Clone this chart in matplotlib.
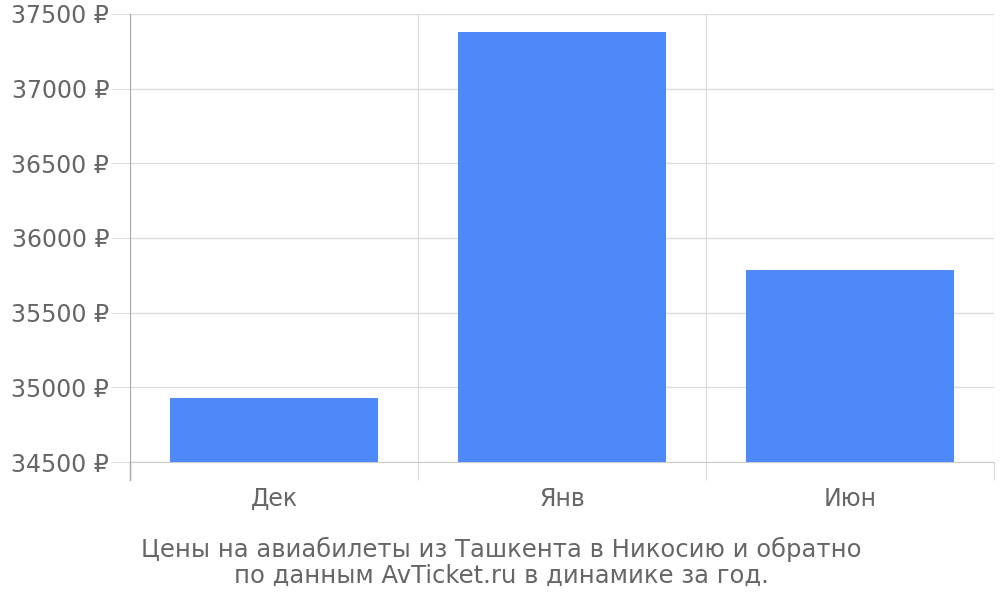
import matplotlib
matplotlib.use("Agg")
import matplotlib.pyplot as plt
from matplotlib.ticker import FixedLocator, FuncFormatter

months = ["Дек", "Янв", "Июн"]
prices = [34929, 37380, 35788]
y_ticks = [34500, 35000, 35500, 36000, 36500, 37000, 37500]
caption = "Цены на авиабилеты из Ташкента в Никосию и обратно\nпо данным AvTicket.ru в динамике за год."

text_color = "#666666"
grid_color = "#dddddd"

plt.rcParams["font.family"] = ["DejaVu Sans"]


def main():
    fig = plt.figure(figsize=(10, 6), dpi=100)
    ax = fig.add_axes([0.13, 0.23, 0.864, 0.7467])

    x = list(range(len(months)))
    ax.bar(x, [p - y_ticks[0] for p in prices], bottom=y_ticks[0], width=0.72,
           color="#4d89f9", zorder=3)

    ax.set_xlim(-0.5, len(months) - 0.5)
    ax.set_ylim(y_ticks[0], y_ticks[-1])

    ax.set_yticks(y_ticks)
    ax.yaxis.set_major_formatter(FuncFormatter(lambda v, _: f"{int(v)} ₽"))
    ax.tick_params(axis="y", length=14, color=grid_color, labelsize=17,
                   labelcolor=text_color, pad=1)
    ax.grid(axis="y", color=grid_color, linewidth=1, zorder=0)

    ax.set_xticks(x)
    ax.set_xticklabels(months)
    ax.tick_params(axis="x", which="major", length=0, labelsize=17,
                   labelcolor=text_color, pad=18)
    ax.xaxis.set_minor_locator(FixedLocator([i - 0.5 for i in range(len(months) + 1)]))
    ax.tick_params(axis="x", which="minor", length=13, color=grid_color, width=1)
    ax.grid(axis="x", which="minor", color=grid_color, linewidth=1, zorder=0)

    for side in ["top", "right"]:
        ax.spines[side].set_visible(False)
    ax.spines["left"].set_color("#aaaaaa")
    ax.spines["left"].set_bounds(y_ticks[0], y_ticks[-1])
    ax.spines["bottom"].set_color("#cccccc")

    # left line continues below the axis like the category ticks
    ax.plot([-0.5, -0.5], [y_ticks[0], y_ticks[0] - 120], color="#aaaaaa",
            linewidth=1, clip_on=False, zorder=4)

    fig.text(0.501, 0.02, caption, ha="center", va="bottom", fontsize=17.5,
             color=text_color, linespacing=1.12)

    fig.savefig("out.png", dpi=100)


if __name__ == "__main__":
    main()
